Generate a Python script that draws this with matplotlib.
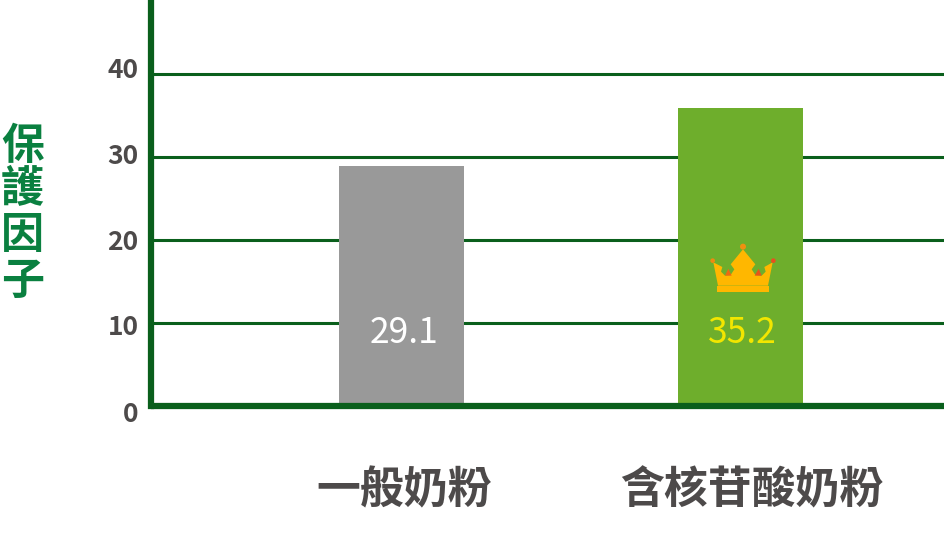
import matplotlib
matplotlib.use("Agg")
import matplotlib.pyplot as plt
from matplotlib.patches import Polygon, Circle, Rectangle
from matplotlib.transforms import Affine2D, ScaledTranslation

plt.rcParams['font.family'] = ['Noto Sans CJK TC', 'DejaVu Sans']

categories = ["一般奶粉", "含核苷酸奶粉"]
bar_heights = [28.9, 35.9]
value_labels = ["29.1", "35.2"]
bar_colors = ["#999999", "#6eae2c"]
label_colors = ["#ffffff", "#f2e600"]
y_ticks = [0, 10, 20, 30, 40]
y_title = "保護因子"

W, H = 946, 550
GREEN = "#0a5f1c"
TEXT = "#4d4a4a"

fig = plt.figure(figsize=(W / 100, H / 100), dpi=100, facecolor="white")
left, right, base = 151, 944, 406
ax = fig.add_axes([left / W, (H - base) / H, (right - left) / W, base / H])
pitch = 339
ax.set_xlim((left - 401.5) / pitch, (right - 401.5) / pitch)
ax.set_ylim(0, base / 8.31)
ax.patch.set_alpha(0)

ax.bar(range(2), bar_heights, width=125 / pitch, color=bar_colors, zorder=3)
for i, (lab, col) in enumerate(zip(value_labels, label_colors)):
    ax.text(i + 0.006, 8.8, lab, ha="center", va="center", fontsize=25.5, color=col,
            fontweight="normal", zorder=5)

ax.set_yticks(y_ticks)
ax.yaxis.grid(True, color=GREEN, linewidth=2.2, zorder=1)
ax.xaxis.grid(False)
ax.set_axisbelow(True)
ax.set_xticks([])
ax.tick_params(axis="y", length=0, pad=9, labelsize=19, labelcolor=TEXT)
# the tick labels sit slightly off their gridlines in the reference (px, + is up)
label_shift_px = [-6, -2, 0.5, 3.5, 6]
for t, dy in zip(ax.get_yticklabels(), label_shift_px):
    t.set_fontweight("bold")
    t.set_transform(t.get_transform() + ScaledTranslation(0, dy / 100, fig.dpi_scale_trans))
for s in ("top", "right"):
    ax.spines[s].set_visible(False)
for s in ("left", "bottom"):
    ax.spines[s].set_color(GREEN)
    ax.spines[s].set_linewidth(4.5)
    ax.spines[s].set_zorder(4)
ax.spines["bottom"].set_capstyle("butt")
ax.spines["left"].set_capstyle("projecting")

# category labels
for i, cat in enumerate(categories):
    x = 401.5 + i * pitch + (2.5 if i == 0 else 11)
    fig.text(x / W, 1 - 490 / H, cat, ha="center", va="center", fontsize=31.6,
             fontweight="bold", color=TEXT)

# y title, one glyph per line
for ch, y in zip(y_title, [146, 189, 235, 281]):
    fig.text(22.5 / W, 1 - y / H, ch, ha="center", va="center", fontsize=31,
             fontweight="bold", color="#0a8040")

# crown decoration, outline in reference pixels
px = Affine2D().scale(1, -1).translate(0, H)
z = lambda p: [(680 + a / 3, 230 + b / 3) for a, b in p]
crown = [(100, 97), (127, 111), (123, 125), (135, 137), (152, 135), (163, 118),
         (152, 103), (189, 58), (226, 103), (215, 118), (226, 135), (245, 137),
         (257, 125), (253, 111), (278, 97), (264, 167), (114, 167)]
fig.add_artist(Polygon(z(crown), closed=True, fc="#ffb700", ec="none", transform=px))
fig.add_artist(Rectangle((680 + 112 / 3, 230 + 168 / 3), 154 / 3, 19 / 3,
                         fc="#ffb700", ec="none", transform=px))
fig.add_artist(Polygon(z([(135, 137), (145, 116), (155, 137)]), closed=True,
                       fc="#ee6a10", ec="none", transform=px))
fig.add_artist(Polygon(z([(224, 137), (236, 116), (245, 137)]), closed=True,
                       fc="#e85518", ec="none", transform=px))
for (a, b, r, c) in [(189, 50, 9, "#f09010"), (98, 92, 7, "#ee8a10"), (280, 92, 7, "#e8501e")]:
    cx, cy = z([(a, b)])[0]
    fig.add_artist(Circle((cx, cy), r / 3, fc=c, ec="none", transform=px))

fig.savefig("out.png", dpi=100)
